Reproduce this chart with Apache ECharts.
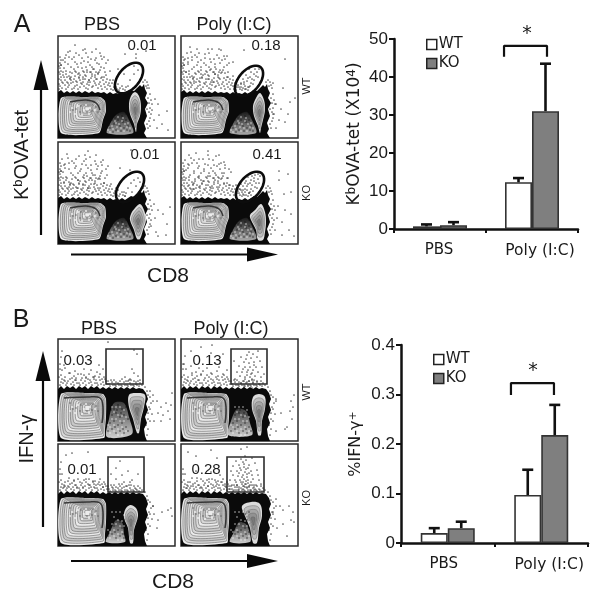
<!DOCTYPE html>
<html><head><meta charset="utf-8">
<style>html,body{margin:0;padding:0;background:#fff}#c{width:600px;height:601px}</style>
<script src="https://cdn.jsdelivr.net/npm/echarts@6/dist/echarts.min.js"></script>
</head><body><div id="c"></div>
<script>
// ---------- bar chart data ----------
const barCategories = ['PBS', 'Poly (I:C)'];
const tetWT = [0.7, 12.3];
const tetKO = [1.0, 31];
const tetWTTop = [1.2, 13.4];
const tetKOTop = [1.8, 43.5];
const ifnWT = [0.02, 0.097];
const ifnKO = [0.03, 0.218];
const ifnWTTop = [0.03, 0.148];
const ifnKOTop = [0.043, 0.279];
const tetBracket = [[1.196, 45.3], [1.196, 48.2], [1.663, 48.2], [1.663, 45.3]];
const ifnBracket = [[1.176, 0.299], [1.176, 0.323], [1.636, 0.323], [1.636, 0.299]];

// ---------- flow panel labels ----------
const percentA = ['0.01', '0.18', '0.01', '0.41'];
const percentB = ['0.03', '0.13', '0.01', '0.28'];

// ---------- flow outlines (panel units, 0-117 across, 0-102 down) ----------
const massA = [[0,56],[3,54],[6,57],[9,55],[12,57],[15,55],[18,57],[21,55],[24,57],[27,55],[31,57],[34,55],[37,57],[40,56],[43,57],[46,56],[49,58],[52,56],[55,58],[58,57],[61,58],[64,56],[67,58],[70,56],[73,54],[76,55],[79,52],[82,49],[84,51],[86,48],[87,53],[89,57],[87,62],[90,67],[87,73],[89,80],[86,87],[88,93],[86,97],[89,102],[0,102]];
const massB = [[0,50],[3,47],[6,50],[9,47],[12,49],[15,47],[18,50],[21,47],[24,49],[27,47],[30,50],[33,47],[36,49],[39,47],[42,50],[45,48],[48,50],[51,48],[54,50],[57,48],[60,50],[63,48],[66,50],[69,48],[72,50],[75,48],[78,50],[81,49],[85,50],[88,54],[90,60],[88,65],[90,71],[87,78],[89,84],[86,90],[87,97],[89,102],[0,102]];
const blobA = [[3,62],[28,61],[42,61],[47,65],[48,75],[45,84],[41,97],[3,97]];
const blobB = [[3,55],[30,54],[45,55],[48,60],[48,78],[47,90],[46,99],[3,99]];
const popA1 = [[77,56],[81,60],[83,70],[82,80],[79,88],[78,96],[76,88],[72,78],[71,68],[73,60]];
const popA2 = [[79,57],[83,64],[84,74],[82,84],[80,92],[79,97],[77,90],[73,80],[72,70],[75,62]];
const popA3 = [[82,62],[86,68],[88,78],[85,88],[82,97],[79,97],[76,88],[72,78],[73,72],[77,66]];
const popA4 = [[80,62],[84,70],[85,80],[84,90],[82,98],[77,98],[75,88],[70,78],[69,73],[74,68]];
const popB1 = [[71,56],[79,54],[87,56],[86,68],[83,80],[81,94],[79,94],[75,80],[71,68]];
const popB2 = [[72,58],[78,55],[84,58],[84,70],[81,82],[80,96],[77,96],[75,82],[71,70]];
const popB3 = [[67,66],[72,61],[78,64],[80,72],[76,86],[75,99],[72,99],[70,84],[66,74]];
const popB4 = [[61,62],[70,58],[79,60],[81,72],[78,84],[76,99],[72,99],[69,84],[64,72]];
const speckA = [[49,97],[53,86],[58,79],[66,76],[71,84],[75,97]];
const speckB1 = [[49,98],[51,80],[56,64],[66,64],[71,78],[74,95]];
const speckB2 = [[47,96],[50,82],[56,70],[65,72],[69,84],[71,96]];
const speckB3 = [[48,98],[52,88],[58,76],[64,78],[66,90],[67,98]];
const speckB4 = [[49,98],[53,88],[58,78],[65,80],[69,90],[69,98]];
const gatesA = [[71,42],[68,45],[72,45],[69,45]];
const gatesB = [[48,10,85,45],[50,10,86,45],[50,13,86,48],[46,13,83,48]];

// ---------- flow events read by eye ----------
const fringeA = [[4,52],[7,49],[10,51],[13,47],[16,52],[19,49],[22,51],[25,46],[28,52],[31,49],[34,51],[37,47],[40,52],[43,50],[46,48],[49,53],[52,50],[55,54],[58,51],[61,54],[64,50],[67,54],[3,44],[6,41],[9,46],[12,43],[18,45],[21,42],[24,48],[27,43],[30,46],[33,42],[36,45],[39,43],[42,46],[45,44],[48,46],[51,47],[54,47],[57,49],[60,48],[2,38],[2,32],[2,27],[3,35],[1,43],[1,48],[89,46],[91,52],[92,58],[93,64],[92,72],[93,78],[91,85],[90,92],[94,68]];
const fringeA2 = [[2,50],[5,47],[8,53],[11,49],[14,53],[15,46],[17,50],[20,53],[23,47],[26,50],[29,48],[30,53],[32,46],[35,50],[38,49],[41,48],[44,53],[47,51],[50,49],[53,53],[56,51],[59,53],[62,52],[65,53],[68,51],[1,53],[4,46],[7,44],[10,47],[13,41],[16,43],[19,46],[22,39],[25,43],[28,40],[31,44],[34,38],[37,41],[40,37],[43,42],[46,41],[49,43],[52,44],[5,36],[8,38],[11,40],[14,37],[17,35],[20,38],[26,36],[29,34],[32,36],[35,33],[38,36],[42,34],[88,50],[90,49],[90,62],[91,67],[89,73],[91,76],[89,88],[92,82],[87,44],[85,46],[2,21],[1,36],[3,29],[3,24],[1,30]];
const fringeB = [[3,43],[6,41],[9,44],[12,40],[15,43],[18,41],[21,44],[24,39],[27,42],[30,40],[33,43],[36,40],[39,44],[42,41],[45,43],[48,42],[51,45],[54,43],[57,46],[60,44],[63,46],[66,43],[69,46],[72,44],[75,46],[78,45],[81,47],[84,46],[3,36],[7,38],[11,34],[16,37],[20,35],[26,36],[31,35],[37,37],[42,35],[46,38],[2,30],[2,25],[1,38],[92,58],[93,64],[92,70],[94,75],[92,82],[90,90],[89,96],[95,62],[56,41],[64,40],[73,41]];
const fringeB2 = [[2,46],[5,44],[8,46],[10,42],[13,45],[16,46],[19,44],[22,46],[25,44],[28,46],[31,44],[34,46],[37,44],[40,46],[43,45],[46,46],[49,45],[52,47],[55,46],[58,47],[61,46],[64,47],[67,46],[70,47],[73,46],[76,47],[79,46],[82,44],[4,40],[7,42],[14,39],[17,41],[23,41],[28,38],[32,41],[35,38],[38,41],[41,38],[44,40],[47,40],[50,42],[53,41],[58,43],[62,42],[68,42],[71,41],[76,42],[80,42],[87,48],[89,52],[90,56],[91,68],[90,74],[90,80],[88,86]];
const cloudA1 = [[17,9],[12,15],[25,14],[34,16],[42,17],[8,19],[21,19],[30,21],[46,21],[5,24],[14,23],[26,25],[37,24],[50,24],[10,28],[19,28],[32,29],[41,28],[6,32],[16,33],[24,32],[36,33],[46,32],[12,36],[21,37],[29,36],[40,38],[5,39],[9,41],[17,40],[25,41],[34,40],[44,41],[13,44],[22,44],[31,44],[38,43],[48,39],[55,44],[52,35],[60,33],[67,18]];
const cloudA2 = [[9,11],[16,13],[31,13],[40,14],[6,17],[14,19],[24,18],[36,19],[46,20],[4,23],[11,24],[20,24],[29,23],[41,24],[52,26],[7,28],[16,29],[25,29],[34,28],[46,29],[11,33],[20,34],[30,33],[39,34],[5,36],[15,38],[24,38],[34,38],[44,37],[9,41],[19,42],[28,43],[38,42],[47,41],[13,45],[33,46],[52,40],[56,44],[104,23],[63,14]];
const cloudA3 = [[9,12],[30,9],[21,14],[32,15],[4,17],[14,19],[26,19],[37,19],[6,23],[18,24],[28,23],[40,24],[45,18],[11,27],[22,29],[33,28],[44,29],[5,30],[15,33],[26,33],[37,33],[49,33],[9,36],[20,38],[31,38],[42,37],[6,40],[15,42],[25,42],[36,42],[46,41],[11,45],[20,46],[30,46],[40,46],[53,42],[58,46],[50,24],[73,8],[62,26]];
const cloudA4 = [[8,13],[15,11],[27,9],[4,18],[13,18],[22,17],[32,18],[40,21],[8,23],[18,24],[27,23],[36,24],[44,26],[5,28],[13,29],[23,29],[32,29],[41,31],[50,30],[9,33],[18,34],[27,34],[37,35],[46,36],[4,38],[14,39],[23,39],[33,40],[43,41],[8,43],[19,44],[29,45],[38,45],[48,43],[55,43],[12,47],[58,47],[35,14],[98,29],[107,32]];
const cloudMoreA = [[11,21],[18,17],[28,17],[38,22],[44,23],[7,26],[17,26],[23,27],[30,26],[39,27],[48,27],[3,29],[13,31],[20,31],[28,31],[34,31],[43,31],[8,35],[18,36],[25,35],[33,36],[41,36],[3,41],[12,42],[21,41],[27,39],[37,39],[47,36],[7,22],[24,22],[33,23],[43,20],[16,21],[27,13],[38,13],[10,16]];
const cloudB1 = [[12,34],[4,31],[7,29],[26,30],[33,31],[39,33],[45,30],[17,32],[23,35],[6,26],[41,26],[50,3],[3,18],[4,12],[36,38],[28,39],[18,39]];
const cloudB2 = [[10,12],[20,8],[31,6],[4,17],[15,33],[5,30],[11,36],[20,36],[30,34],[36,32],[43,36],[26,29],[18,29],[38,28],[10,27],[3,25],[30,14],[42,15],[22,32],[46,31]];
const cloudB3 = [[8,11],[14,9],[3,18],[4,30],[10,37],[16,36],[22,38],[28,35],[35,37],[40,40],[45,43],[31,41],[19,43],[6,43],[11,43],[25,43],[36,43],[30,8]];
const cloudB4 = [[7,8],[15,12],[4,30],[9,38],[16,34],[22,37],[28,35],[34,36],[40,38],[12,42],[20,43],[27,42],[35,42],[44,42],[6,44],[39,31],[30,28],[15,27],[36,14],[30,6]];
const rightA1 = [[89,52],[97,63],[94,74],[101,79],[96,84],[104,88],[109,75],[100,68],[92,90],[99,92],[110,94],[88,15]];
const rightA2 = [[95,68],[100,73],[107,78],[92,78],[98,84],[104,86],[95,92],[109,66],[114,62],[92,47],[102,52]];
const rightA3 = [[96,62],[100,68],[105,72],[97,76],[93,84],[98,90],[109,82],[112,65],[100,94],[108,93]];
const rightA4 = [[98,38],[103,52],[110,50],[97,64],[104,68],[96,76],[101,80],[110,72],[94,88],[101,93],[113,94],[108,88]];
const rightB1 = [[92,52],[95,56],[99,62],[103,68],[108,64],[100,74],[105,76],[110,72],[113,66],[96,82],[103,82],[114,54],[112,80]];
const rightB2 = [[95,60],[100,74],[106,88],[110,62],[112,68],[109,72],[113,56],[95,92],[104,90],[111,80]];
const rightB3 = [[96,70],[100,76],[104,68],[110,66],[114,72],[99,84],[95,62],[113,64]];
const rightB4 = [[95,55],[99,62],[102,66],[92,68],[108,62],[112,68],[96,84],[106,92],[110,76],[113,78],[102,80]];
const inGateA1 = [[76,38],[80,34],[72,44],[66,38],[70,50],[76,30],[78,22],[78,18]];
const inGateA2 = [[60,51],[63,48],[67,51],[62,43],[66,45],[70,47],[73,44],[65,39],[69,41],[73,38],[76,36],[70,36],[77,41],[74,33],[68,33],[60,47],[64,53],[72,48],[78,33],[71,43],[67,42],[75,40],[63,46],[69,50]];
const inGateA3 = [[76,38],[80,36],[70,46],[66,50],[74,50],[78,44],[82,40],[73,41],[72,28],[67,54]];
const inGateA4 = [[61,50],[64,47],[68,51],[62,44],[66,44],[70,47],[74,45],[65,39],[69,41],[73,39],[77,37],[71,34],[78,41],[74,33],[67,35],[59,47],[63,53],[72,49],[79,34],[71,43],[67,42],[75,41],[62,48],[69,50],[76,46],[64,41],[66,48],[73,36],[70,38],[60,42],[77,32],[70,53]];
const inGateB1 = [[76,11],[79,15],[72,40],[76,34],[80,37],[70,42],[78,43],[74,30],[82,41],[67,38]];
const inGateB2 = [[68,13],[72,15],[60,18],[65,20],[70,19],[76,18],[63,23],[68,24],[73,23],[79,22],[58,27],[64,28],[69,28],[75,28],[81,28],[56,33],[61,33],[66,33],[71,34],[77,33],[59,37],[64,38],[69,38],[74,37],[80,38],[63,42],[68,42],[72,43],[54,40],[60,44],[76,43],[83,35],[53,22],[77,12],[67,47],[63,48],[71,49],[66,16],[73,26],[62,30],[67,31],[72,31],[66,36],[71,40],[65,44],[70,35]];
const inGateB3 = [[58,24],[62,17],[53,30],[58,35],[64,31],[70,27],[66,38],[72,38],[61,40],[69,42],[74,36],[77,44],[64,44],[55,44],[80,30]];
const inGateB4 = [[60,5],[66,3],[55,17],[60,15],[65,16],[71,14],[52,22],[58,21],[63,20],[68,21],[74,19],[50,27],[56,27],[60,26],[65,25],[70,27],[76,26],[52,31],[57,32],[62,31],[66,30],[71,31],[77,31],[49,36],[54,36],[59,36],[63,35],[67,36],[72,35],[78,36],[51,41],[56,41],[61,40],[65,40],[69,41],[75,41],[80,40],[48,45],[53,46],[58,45],[62,45],[66,44],[70,46],[74,45],[60,50],[65,51],[69,50],[64,28],[63,23],[66,33],[62,38],[64,43],[67,39],[61,33],[59,24],[67,24],[58,29],[68,29],[55,38],[60,38],[65,37],[70,38],[56,43],[63,42],[68,43],[73,43],[62,18],[64,12]];
const speckDotsA = [[52,92],[56,88],[60,84],[64,80],[68,84],[62,90],[58,94],[66,92],[70,90],[54,84],[72,95],[48,95],[60,78],[65,86],[57,82],[68,78],[63,95],[51,89],[69,94],[55,96]];
const speckWhiteA = [[50,94],[54,90],[57,85],[61,88],[64,85],[67,88],[59,91],[63,92],[55,93],[69,91],[72,92],[60,81],[65,82],[52,96],[66,95],[60,95],[70,87],[58,87]];
const speckDotsB = [[52,66],[56,70],[60,66],[64,70],[68,68],[54,76],[58,74],[62,78],[66,76],[70,80],[52,84],[56,82],[60,86],[64,84],[68,88],[50,92],[54,90],[58,94],[62,92],[66,94],[70,92],[59,71],[63,74],[53,71],[57,88],[65,90]];
const speckWhiteB = [[54,68],[58,68],[62,68],[66,71],[56,73],[60,76],[64,77],[68,78],[54,80],[58,80],[62,82],[66,82],[52,88],[56,86],[60,90],[64,88],[68,92],[52,94],[56,92],[60,96],[64,96],[50,86]];
const mottleLight = [[14,72],[20,70],[26,74],[32,72],[17,78],[24,79],[31,78],[37,74],[12,76],[28,69]];
const mottleDark = [[12,68],[18,73],[23,70],[29,76],[35,69],[22,76],[38,71],[40,76],[15,74],[34,75]];

const panelsA = [
  {pct:percentA[0],gate:gatesA[0],pop:popA1,speck:speckA,cloud:cloudA1,right:rightA1,inGate:inGateA1,tx:84,ty:10,gx:58,gy:36},
  {pct:percentA[1],gate:gatesA[1],pop:popA2,speck:speckA,cloud:cloudA2,right:rightA2,inGate:inGateA2,tx:85,ty:10,gx:181,gy:36},
  {pct:percentA[2],gate:gatesA[2],pop:popA3,speck:speckA,cloud:cloudA3,right:rightA3,inGate:inGateA3,tx:87,ty:13,gx:58,gy:142},
  {pct:percentA[3],gate:gatesA[3],pop:popA4,speck:speckA,cloud:cloudA4,right:rightA4,inGate:inGateA4,tx:86,ty:13,gx:181,gy:142}
];
const panelsB = [
  {pct:percentB[0],rect:gatesB[0],pop:popB1,speck:speckB1,cloud:cloudB1,right:rightB1,inGate:inGateB1,tx:20,ty:22,gx:58,gy:339},
  {pct:percentB[1],rect:gatesB[1],pop:popB2,speck:speckB2,cloud:cloudB2,right:rightB2,inGate:inGateB2,tx:26,ty:22,gx:181,gy:339},
  {pct:percentB[2],rect:gatesB[2],pop:popB3,speck:speckB3,cloud:cloudB3,right:rightB3,inGate:inGateB3,tx:24,ty:26,gx:58,gy:444},
  {pct:percentB[3],rect:gatesB[3],pop:popB4,speck:speckB4,cloud:cloudB4,right:rightB4,inGate:inGateB4,tx:25,ty:26,gx:181,gy:444}
];

const SANS = '"Liberation Sans", Arial, sans-serif';
const WIDE = '"DejaVu Sans", Verdana, sans-serif';
const INK = '#1a1a1a';
const PW = 117, PH = 102;
const blobLevels = [1,.94,.87,.8,.73,.66,.59,.51,.43,.35,.27,.19,.11];
const popLevels = [1,.8,.6,.4,.2];

function centroid(pts){let x=0,y=0;pts.forEach(p=>{x+=p[0];y+=p[1]});return [x/pts.length,y/pts.length];}
function contourGroup(api, pts, anchor, levels, fills, strokeC, strokeW, smooth){
  const kids = levels.map((k,i)=>({
    type:'polygon',
    shape:{points:pts.map(p=>api.coord([anchor[0]+(p[0]-anchor[0])*k, anchor[1]+(p[1]-anchor[1])*k])), smooth},
    style:{fill:fills[i%fills.length], stroke:i===0?'none':strokeC, lineWidth:strokeW}
  }));
  return {type:'group',children:kids};
}
function fillPoly(api, pts, fill){
  return {type:'polygon',shape:{points:pts.map(p=>api.coord(p))},style:{fill}};
}

const grids=[], xAxes=[], yAxes=[], series=[], graphic=[];
const dotSeries=(idx,data,color,size,z)=>({type:'scatter',xAxisIndex:idx,yAxisIndex:idx,symbol:'circle',symbolSize:size,itemStyle:{color},data,silent:true,z,animation:false});
function addPanel(p, idx, mass, blob){
  grids.push({left:p.gx,top:p.gy,width:PW,height:PH,show:true,borderColor:'#2a2a2a',borderWidth:1.5,backgroundColor:'#fff'});
  xAxes.push({gridIndex:idx,type:'value',min:0,max:PW,show:false});
  yAxes.push({gridIndex:idx,type:'value',min:0,max:PH,inverse:true,show:false});
  const events = p.rect
    ? [...p.cloud, ...fringeB, ...fringeB2, ...p.right, ...p.inGate]
    : [...p.cloud, ...cloudMoreA, ...fringeA, ...fringeA2, ...p.right, ...p.inGate];
  series.push(dotSeries(idx,events,'#2a2a2a',1.7,2));
  series.push({type:'custom',xAxisIndex:idx,yAxisIndex:idx,data:[[0,0]],silent:true,z:3,animation:false,clip:true,
    renderItem(params,api){
      const kids=[];
      kids.push(fillPoly(api,mass,'#0a0a0a'));
      const top=p.rect?'#3a3a3a':'#1a1a1a', bottom=p.rect?'#d0d0d0':'#aaaaaa';
      kids.push({type:'polygon',shape:{points:p.speck.map(q=>api.coord(q)),smooth:0.3},
        style:{fill:new echarts.graphic.LinearGradient(0,0,0,1,[{offset:0,color:top},{offset:1,color:bottom}])}});
      const blobAnchor=[30,p.rect?68:72];
      kids.push(contourGroup(api,blob,blobAnchor,blobLevels,['#ececec','#d8d8d8','#c8c8c8','#dcdcdc'],'#5a5a5a',0.55,0.2));
      kids.push({type:'polyline',shape:{points:(p.rect?[[6,59],[30,58],[42,59],[45,68],[44,84]]:[[12,66],[28,64],[38,67],[42,74]]).map(q=>api.coord(q)),smooth:0.4},style:{fill:'none',stroke:'#222',lineWidth:1.5,opacity:.85}});
      kids.push(contourGroup(api,p.pop,centroid(p.pop),popLevels,['#dcdcdc','#bdbdbd','#a6a6a6','#929292','#7a7a7a'],'#5f5f5f',0.45,0.35));
      return {type:'group',children:kids};
    }});
  const shift=p.rect?-4:0;
  const ml=mottleLight.map(d=>[d[0],d[1]+shift]), md=mottleDark.map(d=>[d[0],d[1]+shift]);
  series.push(dotSeries(idx,ml,'#f6f6f6',2.2,4));
  series.push(dotSeries(idx,md,'#4a4a4a',1.5,4));
  const maxX=p.speck[5][0], wd=(p.rect?speckDotsB:speckDotsA).filter(d=>d[0]<maxX), ww=(p.rect?speckWhiteB:speckWhiteA).filter(d=>d[0]<maxX);
  series.push(dotSeries(idx,wd,'#111',1.5,4));
  series.push(dotSeries(idx,ww,'#fff',1.5,4));
  series.push({type:'custom',xAxisIndex:idx,yAxisIndex:idx,data:[[0,0]],silent:true,z:5,animation:false,
    renderItem(params,api){
      if(p.rect){
        const a=api.coord([p.rect[0],p.rect[1]]), b=api.coord([p.rect[2],p.rect[3]]);
        return {type:'rect',shape:{x:a[0],y:a[1],width:b[0]-a[0],height:b[1]-a[1]},style:{fill:'none',stroke:'#2c2c2c',lineWidth:1.6}};
      }
      const g=p.gate, rx=18, ry=10.5, th=-50*Math.PI/180, pts=[];
      for(let i=0;i<48;i++){
        const t=i/48*2*Math.PI, ex=rx*Math.cos(t), ey=ry*Math.sin(t);
        pts.push(api.coord([g[0]+ex*Math.cos(th)-ey*Math.sin(th), g[1]+ex*Math.sin(th)+ey*Math.cos(th)]));
      }
      return {type:'polygon',shape:{points:pts},style:{fill:'none',stroke:'#0c0c0c',lineWidth:2.6}};
    }});
}
panelsA.forEach((p,i)=>addPanel(p,i,massA,blobA));
panelsB.forEach((p,i)=>addPanel(p,i+4,massB,blobB));

// ---------- bar charts ----------
function addBars(g, yCfg, wt, ko, wtTop, koTop, bracket, name, nameGap, nameSize, pbsPad){
  const gi=grids.length, xCat=xAxes.length, xVal=xCat+1, yi=yAxes.length;
  grids.push({left:g[0],top:g[1],width:g[2],height:g[3]});
  const axisLine={show:true,onZero:false,lineStyle:{color:'#111',width:2.5}};
  xAxes.push({gridIndex:gi,type:'category',data:barCategories,axisLine,
    axisTick:{show:true,length:4,inside:false,lineStyle:{color:'#111',width:2}},
    axisLabel:{margin:14,color:INK,
      formatter:(v,i)=>i===0?'{a|'+v+'}':'{b|'+v+'}',
      rich:{a:{fontFamily:WIDE,fontSize:15,color:INK,padding:[0,pbsPad,0,0]},
            b:{fontFamily:WIDE,fontSize:15.5,color:INK,padding:[0,0,0,16]}}}});
  xAxes.push({gridIndex:gi,type:'value',min:0,max:2,show:false});
  yAxes.push(Object.assign({gridIndex:gi,type:'value',splitLine:{show:false},axisLine,
    axisTick:{show:true,length:5,lineStyle:{color:'#111',width:2}},
    axisLabel:{fontFamily:SANS,fontSize:17,color:INK,margin:6},
    name,nameLocation:'middle',nameGap,nameRotate:90,
    nameTextStyle:{fontFamily:WIDE,fontSize:nameSize,color:INK,rich:{
      t:{fontFamily:WIDE,fontSize:nameSize,color:INK},
      s:{fontFamily:WIDE,fontSize:nameSize-5,color:INK,verticalAlign:'top',lineHeight:14}}}
  },yCfg));
  const barStyle=c=>({color:c,borderColor:'#333',borderWidth:1.6});
  series.push({type:'bar',name:'WT',xAxisIndex:xCat,yAxisIndex:yi,data:wt,barWidth:27,barGap:'0%',itemStyle:barStyle('#ffffff'),animation:false,z:2});
  series.push({type:'bar',name:'KO',xAxisIndex:xCat,yAxisIndex:yi,data:ko,barWidth:27,barGap:'0%',itemStyle:barStyle('#7f7f7f'),animation:false,z:2});
  const errs=[];
  wtTop.forEach((t,i)=>errs.push([i,wt[i],t,-1]));
  koTop.forEach((t,i)=>errs.push([i,ko[i],t,1]));
  series.push({type:'custom',xAxisIndex:xCat,yAxisIndex:yi,data:errs,animation:false,silent:true,z:3,
    encode:{x:0,y:[1,2]},
    renderItem(params,api){
      const c=api.value(0), lo=api.coord([c,api.value(1)]), hi=api.coord([c,api.value(2)]);
      const x=lo[0]+api.value(3)*13.5, st={stroke:'#111',lineWidth:2.6};
      return {type:'group',children:[
        {type:'line',shape:{x1:x,y1:lo[1],x2:x,y2:hi[1]},style:st},
        {type:'line',shape:{x1:x-5.5,y1:hi[1],x2:x+5.5,y2:hi[1]},style:st}
      ]};
    }});
  series.push({type:'line',xAxisIndex:xVal,yAxisIndex:yi,data:bracket,showSymbol:false,symbol:'none',animation:false,silent:true,
    lineStyle:{color:'#111',width:2.2},z:3});
}
addBars([394,39,184,190],{min:0,max:50,interval:10},tetWT,tetKO,tetWTTop,tetKOTop,tetBracket,
  '{t|K}{s|b}{t|OVA-tet (X10}{s|4}{t|)}',31,17,2);
addBars([401,345,187,198],{min:0,max:0.4,interval:0.1},ifnWT,ifnKO,ifnWTTop,ifnKOTop,ifnBracket,
  '{t|%IFN-γ}{s|+}',37,16,8);
const legendStyle=(left,top)=>({data:['WT','KO'],orient:'vertical',left,top,itemWidth:10,itemHeight:10,itemGap:4,padding:0,
  icon:'rect',selectedMode:false,textStyle:{fontFamily:WIDE,fontSize:15,color:INK,padding:[3,0,0,-3]},
  itemStyle:{borderColor:'#222',borderWidth:1.5}});

// ---------- text and arrows ----------
function txt(text,cx,cy,size,rot,fam){
  graphic.push({type:'text',x:cx,y:cy,rotation:rot||0,z:60,silent:true,
    style:{text,x:0,y:0,align:'center',verticalAlign:'middle',fill:INK,font:size+'px '+(fam||SANS)}});
}
[...panelsA,...panelsB].forEach(p=>txt(p.pct,p.gx+p.tx,p.gy+p.ty,15));
txt('A',22,25,25); txt('B',21,320,25);
txt('PBS',102,25,18); txt('Poly (I:C)',234,25,18);
txt('PBS',99,329,18); txt('Poly (I:C)',231,329,18);
txt('CD8',168,276,21); txt('CD8',173,582,21);
txt('WT',307,86,11,Math.PI/2); txt('KO',307,193,11,Math.PI/2);
txt('WT',307,392,11,Math.PI/2); txt('KO',307,498,11,Math.PI/2);
txt('IFN-γ',27,439,20,Math.PI/2);
txt('*',527,34,19,0,WIDE); txt('*',533,371,19,0,WIDE);
graphic.push({type:'text',x:22,y:155,rotation:Math.PI/2,z:60,silent:true,
  style:{rich:{a:{font:'20px '+SANS,fill:INK},b:{font:'13px '+SANS,fill:INK,verticalAlign:'top',lineHeight:17}},text:'{a|K}{b|b}{a|OVA-tet}',align:'center',verticalAlign:'middle'}});
function arrow(x1,y1,x2,y2,hx,hy){
  const horiz=y1===y2, style={fill:'#0a0a0a'};
  graphic.push({type:'line',z:55,silent:true,shape:{x1,y1,x2,y2},style:{stroke:'#0a0a0a',lineWidth:2.2}});
  graphic.push({type:'polygon',z:55,silent:true,style,shape:{points:horiz
    ?[[x2,y2-7],[hx,y2],[x2,y2+7]]
    :[[x2-7.5,y2],[x2,hy],[x2+7.5,y2]]}});
}
arrow(41,235,41,90,0,60); arrow(71,254.5,247,254.5,278,0);
arrow(43,527,43,381,0,351); arrow(71,561,247,561,278,0);

const chart=echarts.init(document.getElementById('c'),null,{renderer:'canvas'});
chart.setOption({
  animation:false,backgroundColor:'#fff',
  tooltip:{show:false},
  legend:[legendStyle(426,37),legendStyle(433,352)],
  grid:grids,xAxis:xAxes,yAxis:yAxes,series,graphic
});
</script></body></html>
